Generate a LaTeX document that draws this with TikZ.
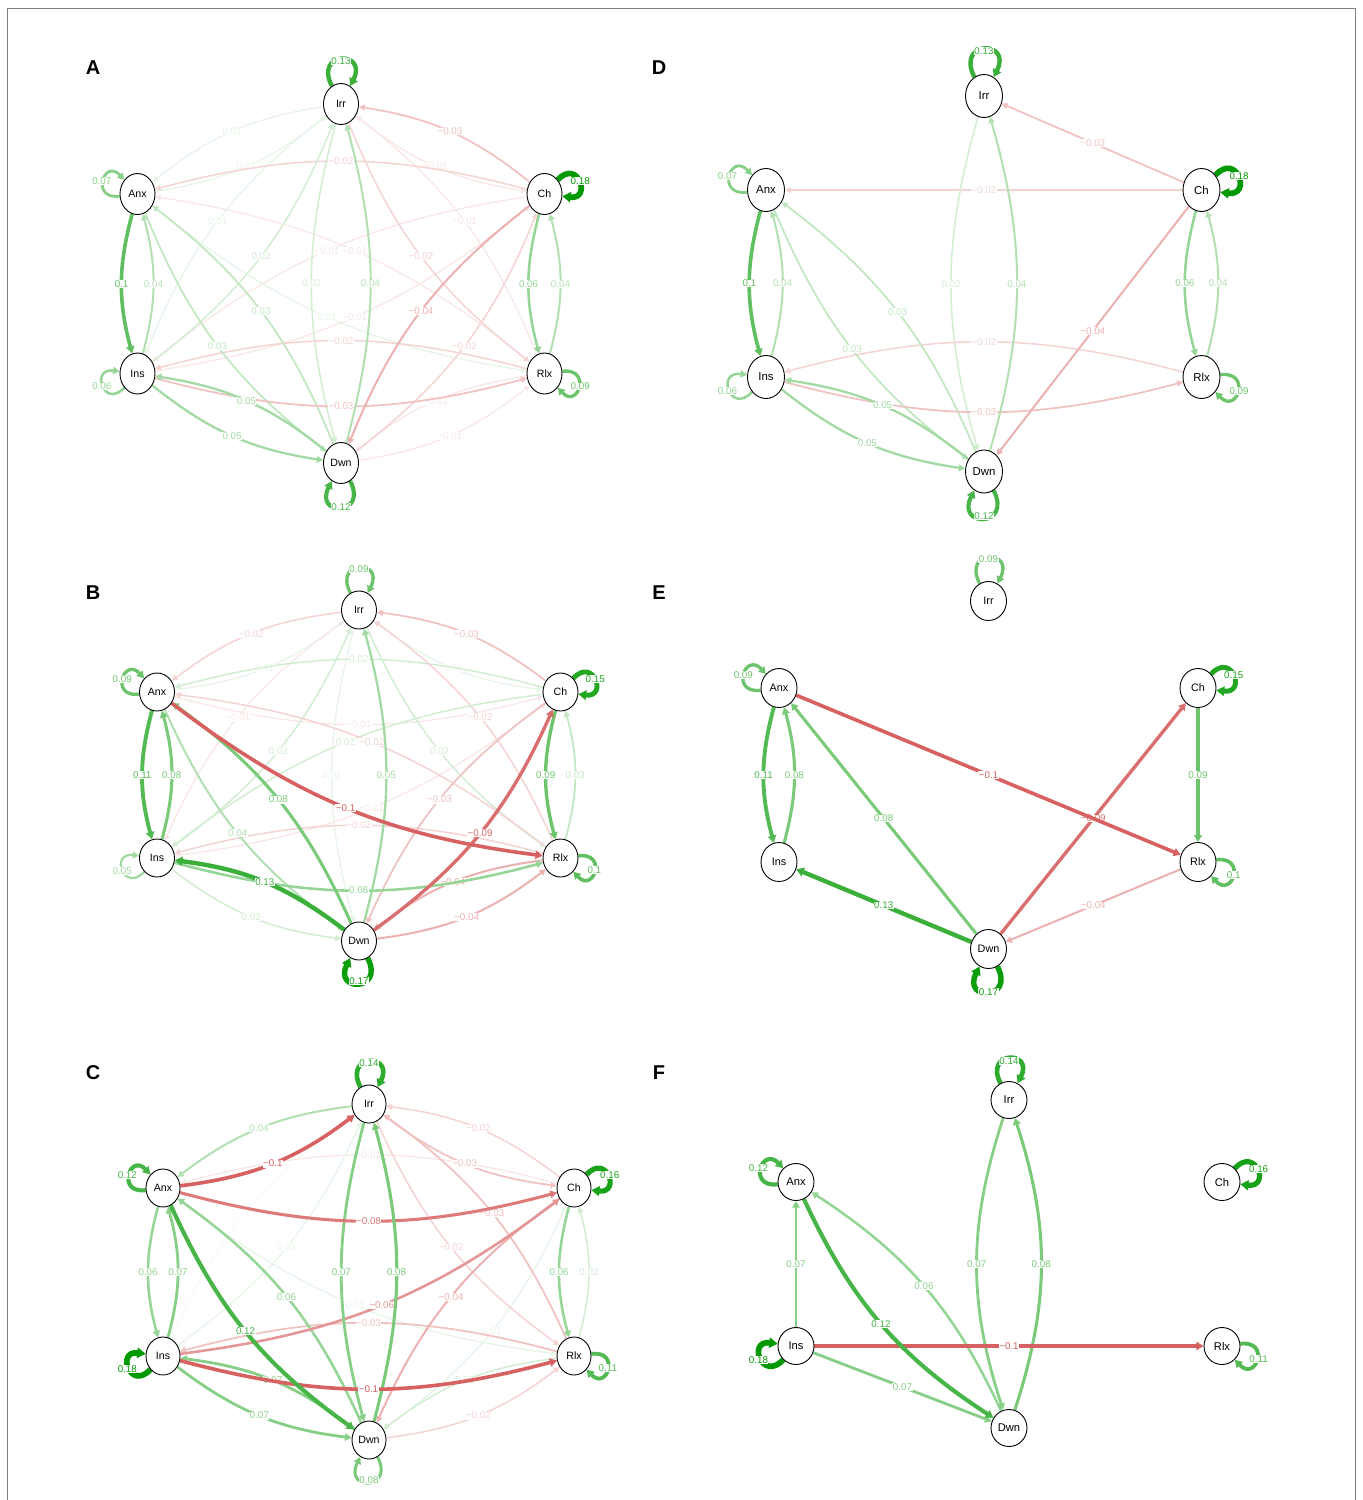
\documentclass[tikz,border=0pt]{standalone}
\usepackage{fontspec}
\setmainfont{Liberation Sans}
\usetikzlibrary{arrows.meta,shapes.geometric,calc,backgrounds}
\definecolor{posc}{RGB}{0,153,0}
\definecolor{negc}{RGB}{191,0,0}
\tikzset{
  vnode/.style={draw=black, line width=0.9pt, fill=white, ellipse, inner sep=0pt, font=\fontsize{10.6}{12}\selectfont},
  vA/.style={vnode, minimum width=35pt, minimum height=41pt},
  vB/.style={vnode, minimum width=35pt, minimum height=38pt},
  vC/.style={vnode, minimum width=34pt, minimum height=38pt},
  vD/.style={vnode, minimum width=37pt, minimum height=43pt, font=\fontsize{11.4}{13}\selectfont},
  vE/.style={vnode, minimum width=36pt, minimum height=39pt, font=\fontsize{10.8}{12}\selectfont},
  vF/.style={vnode, minimum width=36pt, minimum height=37pt, font=\fontsize{11.2}{13}\selectfont},
  elab/.style={fill=white, inner sep=0.5pt, font=\fontsize{9.8}{10}\selectfont},
  arc/.style={-{Triangle[length=5pt 0.6, width=4.5pt 1]}},
  plabel/.style={font=\bfseries\fontsize{20}{22}\selectfont},
  framel/.style={draw=black!50, line width=1.3pt},
}
\newcommand\edgeX[6]{%
  \pgfmathsetmacro\pcent{min(100,100*(#4/0.18)^0.8)}%
  \pgfmathsetmacro\elw{1+26*#4}%
  \draw[arc, draw=#1!\pcent!white, line width=\elw pt] (#2) to[bend right=#5] node[elab, text=#1!\pcent!white]{#6} (#3);}
\newcommand\edgeP[4]{\edgeX{posc}{#1}{#2}{#3}{#4}{#3}}
\newcommand\edgeN[4]{\edgeX{negc}{#1}{#2}{#3}{#4}{−#3}}
\newcommand\selfloop[5]{%
  \pgfmathsetmacro\pcent{min(100,100*(#2/0.18)^0.8)}%
  \pgfmathsetmacro\elw{1+26*#2}%
  \pgfmathsetmacro\loopout{#3+27}%
  \pgfmathsetmacro\loopin{#3-27}%
  \draw[arc, draw=posc!\pcent!white, line width=\elw pt] (#1) to[out=\loopout,in=\loopin,distance=#4pt] (#1);
  \node[elab, text=posc!\pcent!white] at ($(#1.center)+(#3:#5pt)$) {#2};}
\begin{document}
\begin{tikzpicture}[x=1pt,y=1pt]
\useasboundingbox (0,0) rectangle (1363,-1500);
\draw[framel] (7.5,-1500) -- (7.5,-8.5) -- (1355.5,-8.5) -- (1355.5,-1500);
% panel letters
\node[plabel] (LA) at (93,-68) {A};
\node[plabel] (LD) at (659,-68) {D};
\node[plabel] (LB) at (93,-593) {B};
\node[plabel] (LE) at (659,-593) {E};
\node[plabel] (LC) at (93,-1073) {C};
\node[plabel] (LF) at (659,-1073) {F};
% ---------- nodes A
\node[vA] (aIrr) at (341,-104) {Irr};
\node[vA] (aAnx) at (137.5,-194) {Anx};
\node[vA] (aCh) at (544.5,-194) {Ch};
\node[vA] (aIns) at (137.5,-373.5) {Ins};
\node[vA] (aRlx) at (544.5,-373.5) {Rlx};
\node[vA] (aDwn) at (341,-463) {Dwn};
% ---------- nodes D
\node[vD] (dIrr) at (984,-96) {Irr};
\node[vD] (dAnx) at (766,-190) {Anx};
\node[vD] (dCh) at (1201.5,-190) {Ch};
\node[vD] (dIns) at (766,-377) {Ins};
\node[vD] (dRlx) at (1201.5,-377) {Rlx};
\node[vD] (dDwn) at (984,-471.5) {Dwn};
% ---------- nodes B
\node[vB] (bIrr) at (359,-610) {Irr};
\node[vB] (bAnx) at (157,-692) {Anx};
\node[vB] (bCh) at (560.5,-692) {Ch};
\node[vB] (bIns) at (157,-858) {Ins};
\node[vB] (bRlx) at (560.5,-858) {Rlx};
\node[vB] (bDwn) at (359,-941) {Dwn};
% ---------- nodes E
\node[vE] (eIrr) at (988.5,-601) {Irr};
\node[vE] (eAnx) at (779,-688) {Anx};
\node[vE] (eCh) at (1198,-688) {Ch};
\node[vE] (eIns) at (779,-862) {Ins};
\node[vE] (eRlx) at (1198,-862) {Rlx};
\node[vE] (eDwn) at (988.5,-949) {Dwn};
% ---------- nodes C
\node[vC] (cIrr) at (369,-1104) {Irr};
\node[vC] (cAnx) at (163,-1188) {Anx};
\node[vC] (cCh) at (574,-1188) {Ch};
\node[vC] (cIns) at (163,-1356) {Ins};
\node[vC] (cRlx) at (574,-1356) {Rlx};
\node[vC] (cDwn) at (369,-1440) {Dwn};
% ---------- nodes F
\node[vF] (fIrr) at (1009,-1100) {Irr};
\node[vF] (fAnx) at (796,-1182) {Anx};
\node[vF] (fCh) at (1222,-1182) {Ch};
\node[vF] (fIns) at (796,-1346) {Ins};
\node[vF] (fRlx) at (1222,-1346) {Rlx};
\node[vF] (fDwn) at (1009,-1428) {Dwn};

\begin{pgfonlayer}{background}
% ================= A
\edgeP{aIrr}{aAnx}{0.01}{15}
\edgeP{aAnx}{aIrr}{0.01}{15}
\edgeN{aIrr}{aCh}{0.01}{15}
\edgeP{aIrr}{aIns}{0.01}{15}
\edgeN{aRlx}{aIrr}{0.01}{15}
\edgeN{aRlx}{aDwn}{0.01}{15}
\edgeN{aDwn}{aRlx}{0.01}{15}
\edgeP{aAnx}{aRlx}{0.01}{15}
\edgeN{aRlx}{aAnx}{0.01}{15}
\edgeN{aCh}{aIns}{0.01}{15}
\edgeN{aIns}{aCh}{0.01}{15}
\edgeN{aCh}{aAnx}{0.02}{15}
\edgeP{aIrr}{aDwn}{0.02}{15}
\edgeP{aIns}{aIrr}{0.02}{15}
\edgeN{aIrr}{aRlx}{0.02}{15}
\edgeN{aDwn}{aCh}{0.02}{15}
\edgeN{aRlx}{aIns}{0.02}{15}
\edgeN{aCh}{aIrr}{0.03}{15}
\edgeP{aAnx}{aDwn}{0.03}{15}
\edgeP{aDwn}{aAnx}{0.03}{15}
\edgeN{aIns}{aRlx}{0.03}{15}
\edgeP{aDwn}{aIrr}{0.04}{15}
\edgeN{aCh}{aDwn}{0.04}{15}
\edgeP{aIns}{aAnx}{0.04}{15}
\edgeP{aRlx}{aCh}{0.04}{15}
\edgeP{aIns}{aDwn}{0.05}{15}
\edgeP{aDwn}{aIns}{0.05}{15}
\edgeP{aCh}{aRlx}{0.06}{15}
\edgeP{aAnx}{aIns}{0.1}{15}
\selfloop{aIrr}{0.13}{90}{40}{43}
\selfloop{aAnx}{0.07}{160}{30}{38}
\selfloop{aCh}{0.18}{20}{30}{38}
\selfloop{aIns}{0.06}{200}{30}{38}
\selfloop{aRlx}{0.09}{340}{30}{38}
\selfloop{aDwn}{0.12}{270}{40}{44}
% ================= D
\edgeN{dCh}{dAnx}{0.02}{0}
\edgeP{dIrr}{dDwn}{0.02}{16}
\edgeN{dRlx}{dIns}{0.02}{15}
\edgeN{dCh}{dIrr}{0.03}{0}
\edgeP{dAnx}{dDwn}{0.03}{15}
\edgeP{dDwn}{dAnx}{0.03}{15}
\edgeN{dIns}{dRlx}{0.03}{15}
\edgeP{dDwn}{dIrr}{0.04}{16}
\edgeN{dCh}{dDwn}{0.04}{0}
\edgeP{dIns}{dAnx}{0.04}{15}
\edgeP{dRlx}{dCh}{0.04}{15}
\edgeP{dIns}{dDwn}{0.05}{15}
\edgeP{dDwn}{dIns}{0.05}{15}
\edgeP{dCh}{dRlx}{0.06}{15}
\edgeP{dAnx}{dIns}{0.1}{15}
\selfloop{dIrr}{0.13}{90}{42}{45}
\selfloop{dAnx}{0.07}{160}{32}{41}
\selfloop{dCh}{0.18}{20}{32}{40}
\selfloop{dIns}{0.06}{200}{32}{41}
\selfloop{dRlx}{0.09}{340}{32}{40}
\selfloop{dDwn}{0.12}{270}{42}{45}
% ================= B
\edgeP{bAnx}{bIrr}{0.01}{15}
\edgeP{bIrr}{bCh}{0.01}{15}
\edgeN{bAnx}{bCh}{0.01}{15}
\edgeN{bIrr}{bIns}{0.01}{15}
\edgeN{bIns}{bCh}{0.01}{15}
\edgeP{bIrr}{bDwn}{0.01}{15}
\edgeN{bIrr}{bAnx}{0.02}{15}
\edgeP{bCh}{bAnx}{0.02}{15}
\edgeP{bIns}{bIrr}{0.02}{15}
\edgeN{bRlx}{bIrr}{0.02}{15}
\edgeP{bIrr}{bRlx}{0.02}{15}
\edgeP{bCh}{bIns}{0.02}{15}
\edgeN{bRlx}{bAnx}{0.02}{15}
\edgeN{bRlx}{bIns}{0.02}{15}
\edgeP{bIns}{bDwn}{0.02}{15}
\edgeN{bCh}{bIrr}{0.03}{15}
\edgeP{bRlx}{bCh}{0.03}{15}
\edgeN{bCh}{bDwn}{0.03}{15}
\edgeP{bAnx}{bDwn}{0.04}{15}
\edgeN{bRlx}{bDwn}{0.04}{15}
\edgeN{bDwn}{bRlx}{0.04}{15}
\edgeP{bDwn}{bIrr}{0.05}{15}
\edgeP{bIns}{bRlx}{0.06}{15}
\edgeP{bIns}{bAnx}{0.08}{15}
\edgeP{bDwn}{bAnx}{0.08}{15}
\edgeP{bCh}{bRlx}{0.09}{15}
\edgeN{bDwn}{bCh}{0.09}{15}
\edgeN{bAnx}{bRlx}{0.1}{15}
\edgeP{bAnx}{bIns}{0.11}{15}
\edgeP{bDwn}{bIns}{0.13}{15}
\selfloop{bIrr}{0.09}{90}{38}{41}
\selfloop{bAnx}{0.09}{160}{30}{37}
\selfloop{bCh}{0.15}{20}{30}{37}
\selfloop{bIns}{0.05}{200}{30}{37}
\selfloop{bRlx}{0.1}{340}{30}{36}
\selfloop{bDwn}{0.17}{270}{38}{40}
% ================= E
\edgeN{eRlx}{eDwn}{0.04}{0}
\edgeP{eDwn}{eAnx}{0.08}{0}
\edgeP{eIns}{eAnx}{0.08}{15}
\edgeP{eCh}{eRlx}{0.09}{0}
\edgeN{eDwn}{eCh}{0.09}{0}
\edgeN{eAnx}{eRlx}{0.1}{0}
\edgeP{eAnx}{eIns}{0.11}{15}
\edgeP{eDwn}{eIns}{0.13}{0}
\selfloop{eIrr}{0.09}{90}{39}{42}
\selfloop{eAnx}{0.09}{160}{31}{38}
\selfloop{eCh}{0.15}{20}{31}{38}
\selfloop{eRlx}{0.1}{340}{31}{38}
\selfloop{eDwn}{0.17}{270}{39}{43}
% ================= C
\edgeX{posc}{cIrr}{cIns}{0.003}{15}{0}
\edgeN{cCh}{cAnx}{0.01}{15}
\edgeP{cIns}{cIrr}{0.01}{15}
\edgeP{cDwn}{cCh}{0.01}{15}
\edgeP{cAnx}{cRlx}{0.01}{15}
\edgeN{cCh}{cIrr}{0.02}{15}
\edgeN{cIrr}{cRlx}{0.02}{15}
\edgeP{cRlx}{cCh}{0.02}{15}
\edgeP{cRlx}{cDwn}{0.02}{15}
\edgeN{cDwn}{cRlx}{0.02}{15}
\edgeN{cIrr}{cCh}{0.03}{15}
\edgeN{cRlx}{cIrr}{0.03}{15}
\edgeN{cRlx}{cIns}{0.03}{15}
\edgeP{cIrr}{cAnx}{0.04}{15}
\edgeN{cCh}{cDwn}{0.04}{15}
\edgeP{cAnx}{cIns}{0.06}{15}
\edgeP{cCh}{cRlx}{0.06}{15}
\edgeP{cDwn}{cAnx}{0.06}{15}
\edgeN{cIns}{cCh}{0.06}{15}
\edgeP{cIns}{cAnx}{0.07}{15}
\edgeP{cIrr}{cDwn}{0.07}{15}
\edgeP{cDwn}{cIns}{0.07}{15}
\edgeP{cIns}{cDwn}{0.07}{15}
\edgeN{cAnx}{cCh}{0.08}{15}
\edgeP{cDwn}{cIrr}{0.08}{15}
\edgeN{cAnx}{cIrr}{0.1}{15}
\edgeN{cIns}{cRlx}{0.1}{15}
\edgeP{cAnx}{cDwn}{0.12}{15}
\selfloop{cIrr}{0.14}{90}{38}{41}
\selfloop{cAnx}{0.12}{160}{30}{38}
\selfloop{cCh}{0.16}{20}{30}{38}
\selfloop{cIns}{0.18}{200}{30}{38}
\selfloop{cRlx}{0.11}{340}{30}{36}
\selfloop{cDwn}{0.08}{270}{38}{40}
% ================= F
\edgeP{fDwn}{fAnx}{0.06}{16}
\edgeP{fIns}{fAnx}{0.07}{0}
\edgeP{fIrr}{fDwn}{0.07}{18}
\edgeP{fIns}{fDwn}{0.07}{0}
\edgeP{fDwn}{fIrr}{0.08}{18}
\edgeN{fIns}{fRlx}{0.1}{0}
\edgeP{fAnx}{fDwn}{0.12}{16}
\selfloop{fIrr}{0.14}{90}{37}{39}
\selfloop{fAnx}{0.12}{160}{31}{40}
\selfloop{fCh}{0.16}{20}{31}{39}
\selfloop{fIns}{0.18}{200}{31}{40}
\selfloop{fRlx}{0.11}{340}{31}{39}
\end{pgfonlayer}
\end{tikzpicture}
\end{document}
